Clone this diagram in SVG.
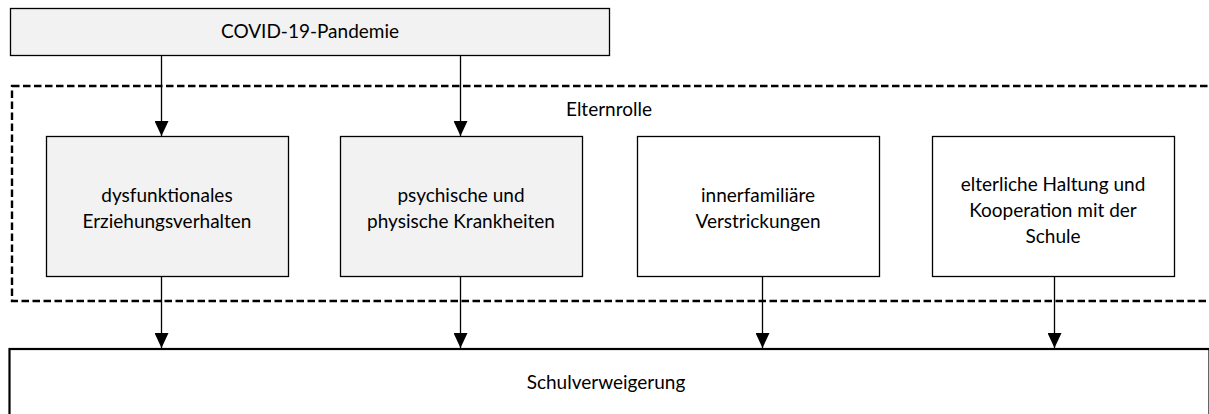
<svg xmlns="http://www.w3.org/2000/svg" width="1209" height="414" viewBox="0 0 1209 414">
<style>
.box{stroke:#000;stroke-width:1.3}
.grey{fill:#f2f2f2}
.white{fill:#fff}
.t{font-family:Lato,"Open Sans","Liberation Sans",sans-serif;font-size:19px;fill:#000;text-anchor:middle}
.c{stroke:#000;stroke-width:1.3;fill:none;marker-end:url(#ah)}
</style>
<defs>
<marker id="ah" viewBox="0 0 15 14" refX="15" refY="7" markerWidth="15" markerHeight="14" markerUnits="userSpaceOnUse" orient="auto">
<path d="M0,0 L15,7 L0,14 Z" fill="#000"/>
</marker>
</defs>
<rect width="1209" height="414" fill="#fff"/>
<g id="elternrolle">
<rect x="12" y="86" width="1210" height="215" fill="none" stroke="#000" stroke-width="2.4" stroke-dasharray="7.5,3.5"/>
<text class="t" x="609" y="116">Elternrolle</text>
</g>
<g id="covid">
<rect class="box grey" x="10.5" y="8.5" width="599" height="47"/>
<text class="t" x="310" y="38">COVID-19-Pandemie</text>
</g>
<g id="n1">
<rect class="box grey" x="46.5" y="136.5" width="242" height="140"/>
<text class="t" x="167" y="202">dysfunktionales</text>
<text class="t" x="167" y="228">Erziehungsverhalten</text>
</g>
<g id="n2">
<rect class="box grey" x="340.5" y="136.5" width="242" height="140"/>
<text class="t" x="461" y="202">psychische und</text>
<text class="t" x="461" y="228">physische Krankheiten</text>
</g>
<g id="n3">
<rect class="box white" x="637.5" y="136.5" width="242" height="140"/>
<text class="t" x="758" y="202">innerfamiliäre</text>
<text class="t" x="758" y="228">Verstrickungen</text>
</g>
<g id="n4">
<rect class="box white" x="932.5" y="136.5" width="242" height="140"/>
<text class="t" x="1053" y="191">elterliche Haltung und</text>
<text class="t" x="1053" y="217">Kooperation mit der</text>
<text class="t" x="1053" y="243">Schule</text>
</g>
<g id="schulverweigerung">
<rect x="9.5" y="349" width="1200" height="80" fill="#fff" stroke="#000" stroke-width="2.2"/>
<text class="t" x="606" y="389">Schulverweigerung</text>
</g>
<g id="connectors">
<line class="c" x1="161.5" y1="56" x2="161.5" y2="136"/>
<line class="c" x1="460.5" y1="56" x2="460.5" y2="136"/>
<line class="c" x1="161.5" y1="277" x2="161.5" y2="348"/>
<line class="c" x1="460.5" y1="277" x2="460.5" y2="348"/>
<line class="c" x1="762.5" y1="277" x2="762.5" y2="348"/>
<line class="c" x1="1054.5" y1="277" x2="1054.5" y2="348"/>
</g>
</svg>
